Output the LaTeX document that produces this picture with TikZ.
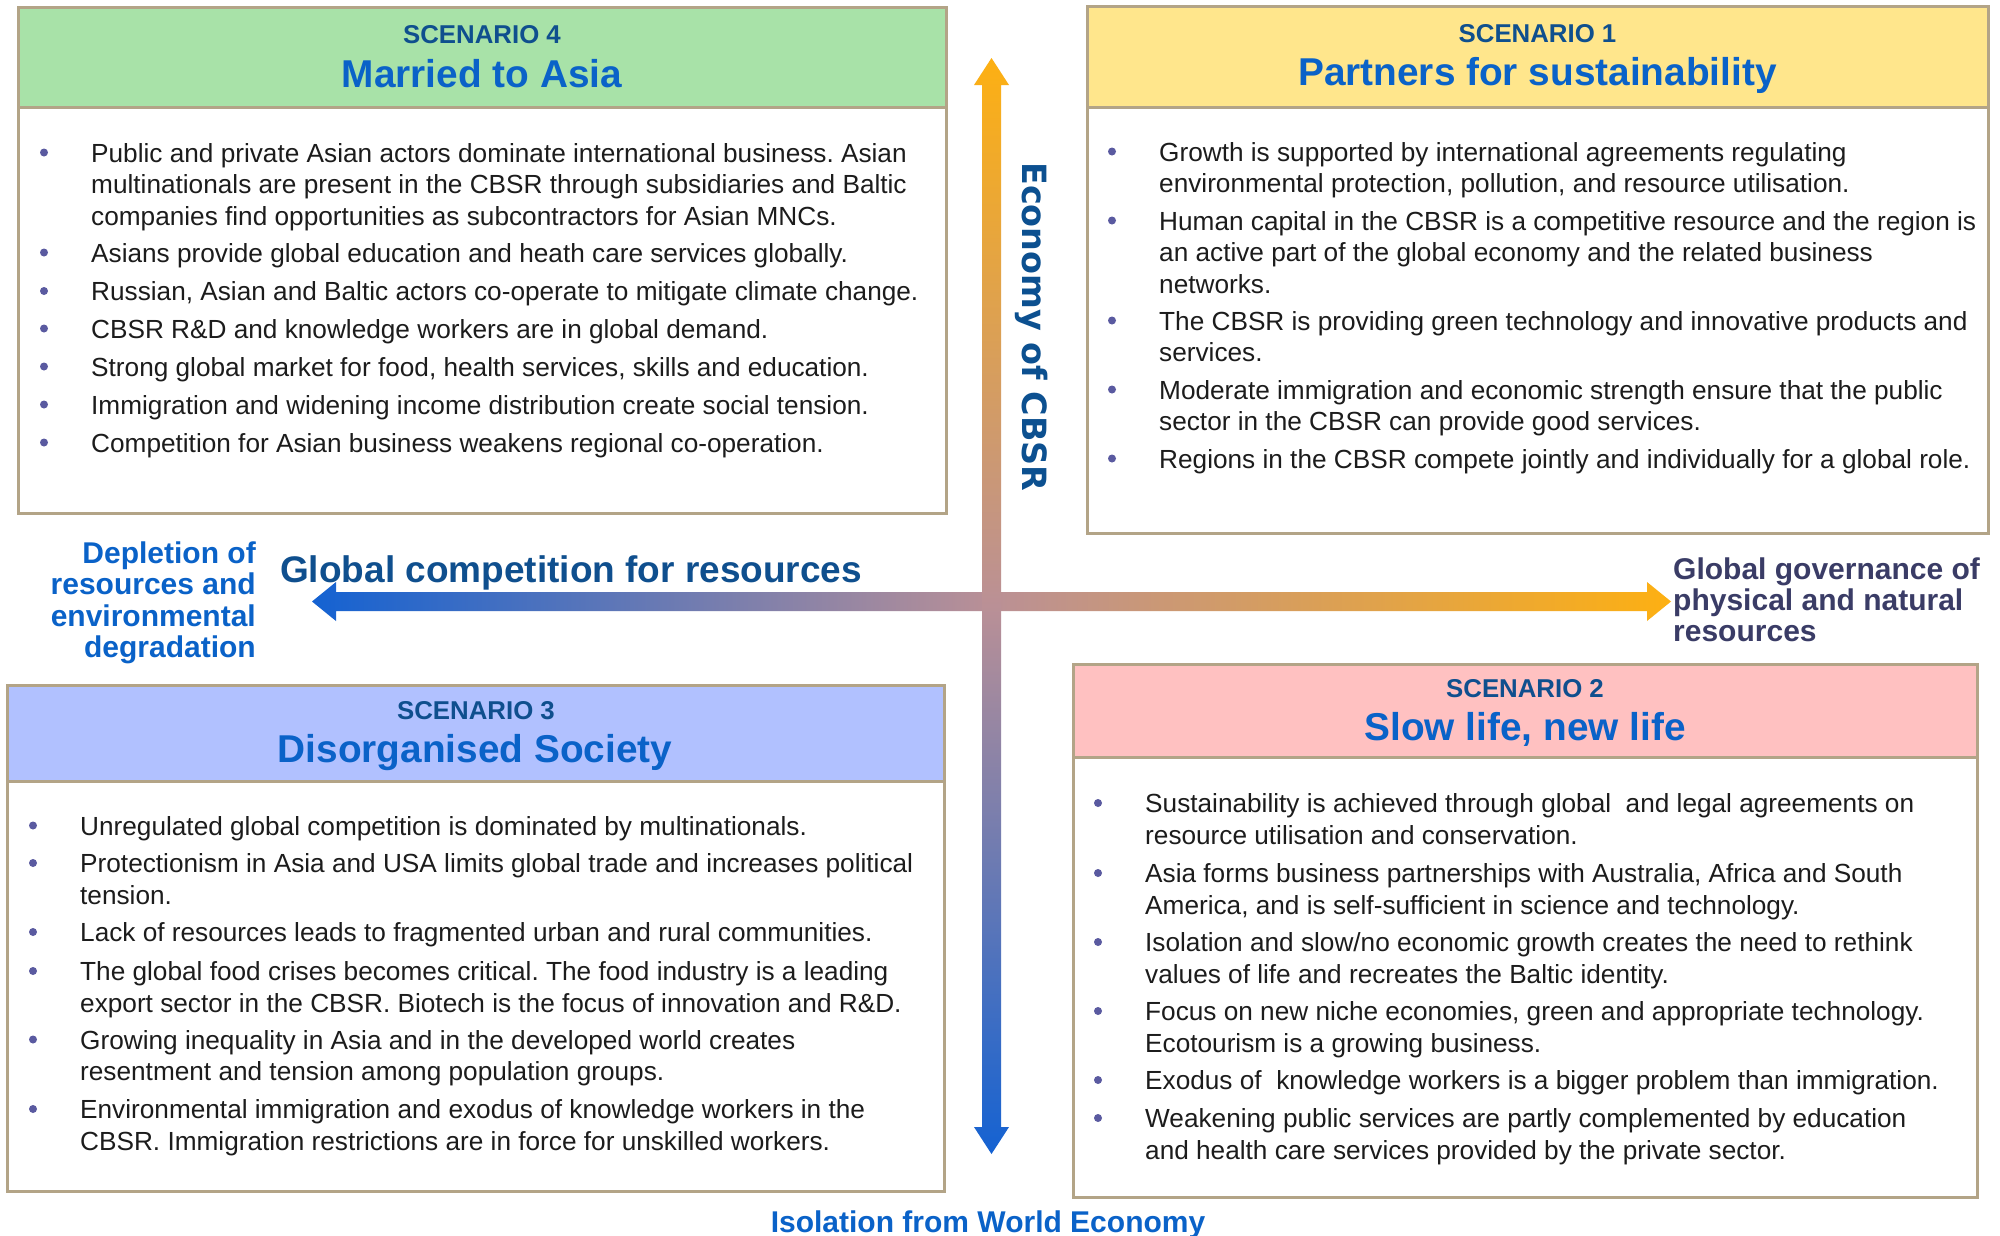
\documentclass[tikz,border=0pt]{standalone}
\usepackage{fontspec}
\setmainfont{Liberation Sans}
\newfontfamily\dejavu{DejaVu Sans}
\frenchspacing
\definecolor{brd}{HTML}{B3A487}
\definecolor{gfill}{HTML}{A8E2A8}
\definecolor{yfill}{HTML}{FFE68C}
\definecolor{bfill}{HTML}{B1C1FF}
\definecolor{pfill}{HTML}{FFC1C1}
\definecolor{navy}{HTML}{0F4F8E}
\definecolor{tblue}{HTML}{0A62C8}
\definecolor{dotc}{HTML}{5A5AA0}
\definecolor{slate}{HTML}{3A3C66}
\definecolor{aorange}{HTML}{FDB012}
\definecolor{ablue}{HTML}{1462D2}
\definecolor{amid}{HTML}{BA9096}
\definecolor{bodyc}{HTML}{1C1C1C}
\definecolor{econ}{HTML}{0C5090}
\newcommand\bline[1]{\hbox{#1}}
\newcommand\scitem[4]{%
  \node[bdot] (#1-b) at ({#2-47},{#3-9.5}) {};
  \node[btxt] (#1) at (#2,#3) {\vtop{#4}};
}
\tikzset{
  boxbase/.style={draw=brd, line width=3pt, inner sep=0, rectangle},
  scen/.style={anchor=base, inner sep=0, font=\fontsize{25.8}{30}\selectfont\bfseries, text=navy},
  stitle/.style={anchor=base, inner sep=0, font=\fontsize{38.8}{46}\selectfont\bfseries, text=tblue},
  btxt/.style={anchor=base west, inner sep=0, font=\fontsize{26.2}{31.5}\selectfont\frenchspacing, text=bodyc},
  bdot/.style={circle, fill=dotc, minimum size=8pt, inner sep=0},
  axlab/.style={inner sep=0, font=\fontsize{30}{31.5}\selectfont\bfseries},
}
\begin{document}
\begin{tikzpicture}[x=1pt,y=-1pt]
\useasboundingbox[fill=white] (0,0) rectangle (2000,1235);

% ---------- axes ----------
\shade[left color=ablue, right color=aorange, middle color=amid]
  (312,601.5) -- (336,582) -- (336,592) -- (1647,592) -- (1647,582) -- (1671,601.5)
  -- (1647,621) -- (1647,611) -- (336,611) -- (336,621) -- cycle;
\shade[top color=aorange, bottom color=ablue, middle color=amid]
  (991.5,58) -- (1009,85) -- (1001,85) -- (1001,1127) -- (1009,1127) -- (991.5,1154)
  -- (974,1127) -- (982,1127) -- (982,85) -- (974,85) -- cycle;

% ---------- axis labels ----------
\node[inner sep=0, rotate=-90, font=\dejavu\fontsize{33.4}{36}\selectfont\bfseries, text=econ]
  (econ) at (1032,327) {Economy of CBSR};
\node[inner sep=0, anchor=base west, font=\fontsize{37}{40}\selectfont\bfseries, text=navy]
  (gcomp) at (280,582) {Global competition for resources};
\node[axlab, anchor=base east, text=tblue] (depl) at (256,563)
  {\vtop{\baselineskip=31.5pt\halign{\hfil#\cr Depletion of\cr resources and\cr environmental\cr degradation\cr}}};
\node[axlab, anchor=base west, text=slate] (ggov) at (1673,579)
  {\vtop{\baselineskip=31pt\bline{Global governance of}\bline{physical and natural}\bline{resources}}};
\node[axlab, anchor=base, text=tblue] (isol) at (988,1232) {Isolation from World Economy};

% ---------- Scenario 4 ----------
\node[boxbase, fill=white, minimum width=928pt, minimum height=406pt] (s4body) at (482,310) {};
\node[boxbase, fill=gfill, minimum width=928pt, minimum height=100pt] (s4head) at (482,57) {};
\node[scen] (s4n) at (482,43) {SCENARIO 4};
\node[stitle] (s4t) at (482,87) {Married to Asia};
\scitem{s4i1}{91}{162}{\bline{Public and private Asian actors dominate international business. Asian}\bline{multinationals are present in the CBSR through subsidiaries and Baltic}\bline{companies find opportunities as subcontractors for Asian MNCs.}}
\scitem{s4i2}{91}{262}{\bline{Asians provide global education and heath care services globally.}}
\scitem{s4i3}{91}{300.5}{\bline{Russian, Asian and Baltic actors co-operate to mitigate climate change.}}
\scitem{s4i4}{91}{338}{\bline{CBSR R\&D and knowledge workers are in global demand.}}
\scitem{s4i5}{91}{376}{\bline{Strong global market for food, health services, skills and education.}}
\scitem{s4i6}{91}{414}{\bline{Immigration and widening income distribution create social tension.}}
\scitem{s4i7}{91}{452}{\bline{Competition for Asian business weakens regional co-operation.}}

% ---------- Scenario 1 ----------
\node[boxbase, fill=white, minimum width=901pt, minimum height=426pt] (s1body) at (1537.5,320) {};
\node[boxbase, fill=yfill, minimum width=901pt, minimum height=101pt] (s1head) at (1537.5,56.5) {};
\node[scen] (s1n) at (1537.5,42) {SCENARIO 1};
\node[stitle] (s1t) at (1537.5,85) {Partners for sustainability};
\scitem{s1i1}{1159}{161}{\bline{Growth is supported by international agreements regulating}\bline{environmental protection, pollution, and resource utilisation.}}
\scitem{s1i2}{1159}{230}{\bline{Human capital in the CBSR is a competitive resource and the region is}\bline{an active part of the global economy and the related business}\bline{networks.}}
\scitem{s1i3}{1159}{330}{\bline{The CBSR is providing green technology and innovative products and}\bline{services.}}
\scitem{s1i4}{1159}{399}{\bline{Moderate immigration and economic strength ensure that the public}\bline{sector in the CBSR can provide good services.}}
\scitem{s1i5}{1159}{468}{\bline{Regions in the CBSR compete jointly and individually for a global role.}}

% ---------- Scenario 3 ----------
\node[boxbase, fill=white, minimum width=937pt, minimum height=410pt] (s3body) at (475.5,986) {};
\node[boxbase, fill=bfill, minimum width=937pt, minimum height=96pt] (s3head) at (475.5,733) {};
\node[scen] (s3n) at (476,719) {SCENARIO 3};
\node[stitle] (s3t) at (475,762) {Disorganised Society};
\scitem{s3i1}{80}{835}{\bline{Unregulated global competition is dominated by multinationals.}}
\scitem{s3i2}{80}{872.5}{\bline{Protectionism in Asia and USA limits global trade and increases political}\bline{tension.}}
\scitem{s3i3}{80}{941.5}{\bline{Lack of resources leads to fragmented urban and rural communities.}}
\scitem{s3i4}{80}{980.5}{\bline{The global food crises becomes critical. The food industry is a leading}\bline{export sector in the CBSR. Biotech is the focus of innovation and R\&D.}}
\scitem{s3i5}{80}{1049}{\bline{Growing inequality in Asia and in the developed world creates}\bline{resentment and tension among population groups.}}
\scitem{s3i6}{80}{1118.5}{\bline{Environmental immigration and exodus of knowledge workers in the}\bline{CBSR. Immigration restrictions are in force for unskilled workers.}}

% ---------- Scenario 2 ----------
\node[boxbase, fill=white, minimum width=904pt, minimum height=440pt] (s2body) at (1525,977) {};
\node[boxbase, fill=pfill, minimum width=904pt, minimum height=93pt] (s2head) at (1525,710.5) {};
\node[scen] (s2n) at (1525,697) {SCENARIO 2};
\node[stitle] (s2t) at (1525,740) {Slow life, new life};
\scitem{s2i1}{1145}{812.5}{\bline{Sustainability is achieved through global \ and legal agreements on}\bline{resource utilisation and conservation.}}
\scitem{s2i2}{1145}{882.5}{\bline{Asia forms business partnerships with Australia, Africa and South}\bline{America, and is self-sufficient in science and technology.}}
\scitem{s2i3}{1145}{951.5}{\bline{Isolation and slow/no economic growth creates the need to rethink}\bline{values of life and recreates the Baltic identity.}}
\scitem{s2i4}{1145}{1020.5}{\bline{Focus on new niche economies, green and appropriate technology.}\bline{Ecotourism is a growing business.}}
\scitem{s2i5}{1145}{1089.5}{\bline{Exodus of \ knowledge workers is a bigger problem than immigration.}}
\scitem{s2i6}{1145}{1127.5}{\bline{Weakening public services are partly complemented by education}\bline{and health care services provided by the private sector.}}
\end{tikzpicture}
\end{document}
